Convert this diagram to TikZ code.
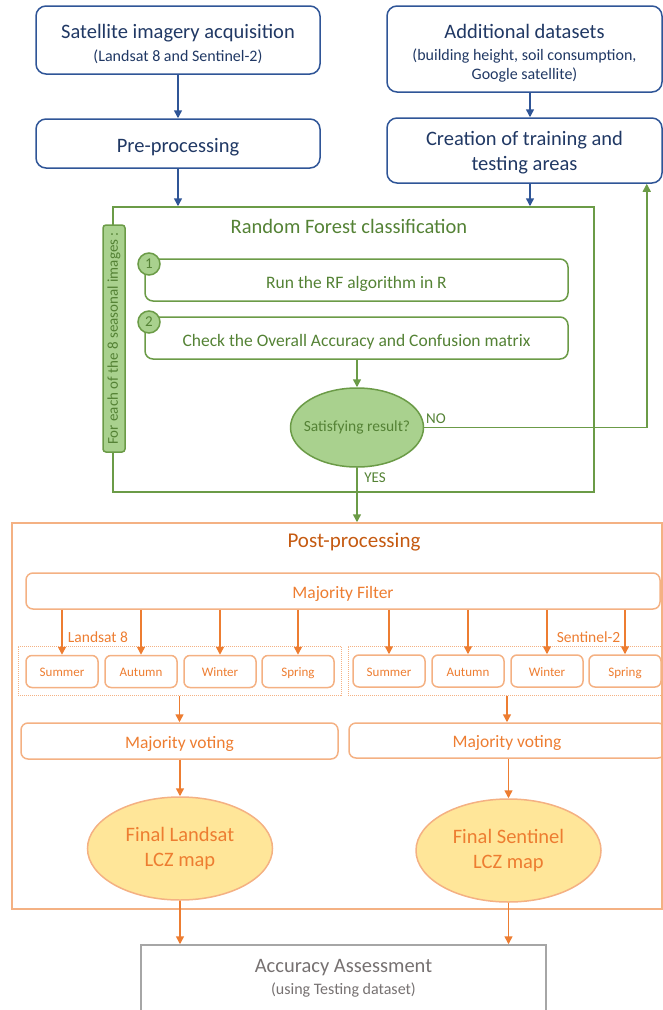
\documentclass[tikz,border=0pt]{standalone}
\usepackage{fontspec}
\setmainfont{Carlito}
\usetikzlibrary{arrows.meta,shapes.geometric,positioning}
\definecolor{blueline}{HTML}{2F5597}
\definecolor{bluetext}{HTML}{203864}
\definecolor{greenline}{HTML}{6B9B47}
\definecolor{greentext}{HTML}{548235}
\definecolor{greenfill}{HTML}{A9D18E}
\definecolor{orangeline}{HTML}{F4B183}
\definecolor{orangearr}{HTML}{ED7D31}
\definecolor{orangetitle}{HTML}{C55A11}
\definecolor{yellowfill}{HTML}{FFE699}
\definecolor{grayline}{HTML}{A6A6A6}
\definecolor{graytext}{HTML}{767171}

\begin{document}
\begin{tikzpicture}[x=1pt,y=-1pt]
\path[use as bounding box] (0,0) rectangle (663,1010);
\tikzstyle{bluebox}=[draw=blueline, line width=1.5pt, rounded corners=10pt, text=bluetext, align=center, inner sep=0pt, font=\fontsize{20.5}{24}\selectfont]
\tikzstyle{bluearrow}=[draw=blueline, line width=1.5pt, -{Triangle[width=8pt,length=8pt]}, blueline]
\tikzstyle{greenarrow}=[draw=greenline, line width=1.5pt, -{Triangle[width=8pt,length=8pt]}, greenline]
\tikzstyle{orangearrow}=[draw=orangearr, line width=1.5pt, -{Triangle[width=8pt,length=8pt]}, orangearr]
\tikzstyle{stepbox}=[draw=greenline, line width=1.5pt, rounded corners=8pt, minimum width=423pt, minimum height=42pt, text=greentext, inner sep=0pt, text height=16.8pt, text depth=0pt, font=\fontsize{17.5}{20}\selectfont]
\tikzstyle{stepnum}=[circle, draw=greenline, line width=1.5pt, fill=greenfill, minimum size=22pt, inner sep=0pt, text=greentext, font=\fontsize{15}{18}\selectfont]
\tikzstyle{obox}=[draw=orangeline, line width=1.5pt, rounded corners=7pt, text=orangearr, inner sep=0pt, text height=14.8pt, text depth=0pt, font=\fontsize{17.5}{20}\selectfont]
\tikzstyle{season}=[obox, rounded corners=6pt, minimum width=72pt, minimum height=32pt, text height=10.6pt, font=\fontsize{13}{15}\selectfont]
\tikzstyle{group}=[draw=orangeline, line width=1pt, densely dotted, inner sep=0pt]
\tikzstyle{lczmap}=[ellipse, draw=orangeline, line width=1.5pt, fill=yellowfill, minimum width=185pt, minimum height=103pt, inner sep=0pt, align=center, text=orangearr, font=\fontsize{20.5}{25}\selectfont]

% input stages
\node[bluebox, minimum width=284pt, minimum height=68pt] (acq) at (178,40) {\rule{0pt}{22.5pt}Satellite imagery acquisition\\[-1pt]{\fontsize{16}{19}\selectfont (Landsat 8 and Sentinel-2)}};
\node[bluebox, minimum width=284pt, minimum height=49pt, text height=18.2pt, text depth=0pt] (pre) at (178,143.5) {Pre-processing};
\node[bluebox, minimum width=275pt, minimum height=86pt] (add) at (524.5,49) {\rule{0pt}{22.5pt}Additional datasets\\[-2pt]{\fontsize{16}{19}\selectfont (building height, soil consumption,}\\[-5pt]{\fontsize{16}{19}\selectfont Google satellite)}};
\node[bluebox, minimum width=275pt, minimum height=65pt] (train) at (524.5,150.5) {\rule{0pt}{19.5pt}Creation of training and\\[1pt]testing areas};

\draw[bluearrow] (acq) -- (pre);
\draw[bluearrow] ([xshift=5.5pt]add.south) -- ([xshift=5.5pt]train.north);

% classification
\node[draw=greenline, line width=1.5pt, minimum width=481pt, minimum height=285pt, inner sep=0pt] (rf) at (353.5,349.5) {};
\node[text=greentext, font=\fontsize{20.5}{24}\selectfont] (rftitle) at (349,226) {Random Forest classification};
\node[draw=greenline, line width=1.5pt, fill=greenfill, rounded corners=3pt, rotate=90, minimum width=227pt, minimum height=22pt, inner sep=0pt, text=greentext, font=\fontsize{15}{18}\selectfont] (loop) at (114,338.5) {For each of the 8 seasonal images :};

\node[stepbox] (run) at (356.5,280) {Run the RF algorithm in R};
\node[stepbox] (check) at (356.5,338) {Check the Overall Accuracy and Confusion matrix};
\node[stepnum] (n1) at (149,264) {1};
\node[stepnum] (n2) at (149,322) {2};
\node[ellipse, draw=greenline, line width=1.5pt, fill=greenfill, minimum width=133pt, minimum height=79pt, inner xsep=-8pt, inner ysep=0pt, text=greentext, font=\fontsize{15.5}{18}\selectfont] (sat) at (357,427.5) {Satisfying result?};

\draw[bluearrow] (pre.south) -- (pre.south |- rf.north);
\draw[bluearrow] ([xshift=5.5pt]train.south) -- ([xshift=5.5pt]train.south |- rf.north);
\draw[greenarrow] (check.south -| sat.north) -- (sat.north);
\draw[greenarrow] (sat.east) -| ([xshift=-16pt]train.south east);
\node[text=greentext, font=\fontsize{15}{18}\selectfont] (no) at (436,419) {NO};

% post-processing
\node[draw=orangeline, line width=1.5pt, minimum width=650pt, minimum height=386pt, inner sep=0pt] (post) at (337,716) {};
\node[text=orangetitle, font=\fontsize{21}{25}\selectfont] (posttitle) at (354,542) {Post-processing};
\draw[greenarrow] (sat.south) -- (sat.south |- post.north);
\node[text=greentext, font=\fontsize{15}{18}\selectfont] (yes) at (375,478) {YES};

\node[obox, minimum width=634pt, minimum height=36pt] (filter) at (343,591) {Majority Filter};

\node[group, minimum width=323pt, minimum height=49pt] (grpl) at (179.5,670.5) {};
\node[group, minimum width=322pt, minimum height=49pt] (grps) at (509,670.5) {};
\node[text=orangearr, font=\fontsize{15.5}{18}\selectfont] (lsat) at (98,637.5) {Landsat 8};
\node[text=orangearr, font=\fontsize{15.5}{18}\selectfont] (sent) at (588.5,637.5) {Sentinel-2};

\foreach \s/\x [count=\i] in {Summer/62,Autumn/141,Winter/220,Spring/298} {
  \node[season] (l\i) at (\x,671.5) {\s};
  \draw[orangearrow] (filter.south -| l\i.north) -- (l\i.north);
}
\foreach \s/\x [count=\i] in {Summer/389,Autumn/468,Winter/547,Spring/625} {
  \node[season] (s\i) at (\x,671) {\s};
  \draw[orangearrow] (filter.south -| s\i.north) -- (s\i.north);
}

\node[obox, minimum width=317pt, minimum height=36pt] (votel) at (179.5,741) {Majority voting};
\node[obox, minimum width=316pt, minimum height=35pt] (votes) at (507,740.5) {Majority voting};
\draw[orangearrow] (grpl.south -| votel.north) -- (votel.north);
\draw[orangearrow] ([xshift=-2pt]grps.south) -- (votes.north);

\node[lczmap] (mapl) at (180,848.5) {Final Landsat\\LCZ map};
\node[lczmap] (maps) at (508.5,850.5) {Final Sentinel\\LCZ map};
\draw[orangearrow] (votel.south -| mapl.north) -- (mapl.north);
\draw[orangearrow] (votes.south -| maps.north) -- (maps.north);

% assessment
\node[draw=grayline, line width=1.5pt, minimum width=405pt, minimum height=66pt, inner sep=0pt, align=center, text=graytext, font=\fontsize{20.5}{22}\selectfont] (acc) at (343.5,978) {Accuracy Assessment\\{\fontsize{16}{19}\selectfont (using Testing dataset)}};
\draw[orangearrow] (mapl.south) -- (mapl.south |- acc.north);
\draw[orangearrow] (maps.south) -- (maps.south |- acc.north);
\end{tikzpicture}
\end{document}
